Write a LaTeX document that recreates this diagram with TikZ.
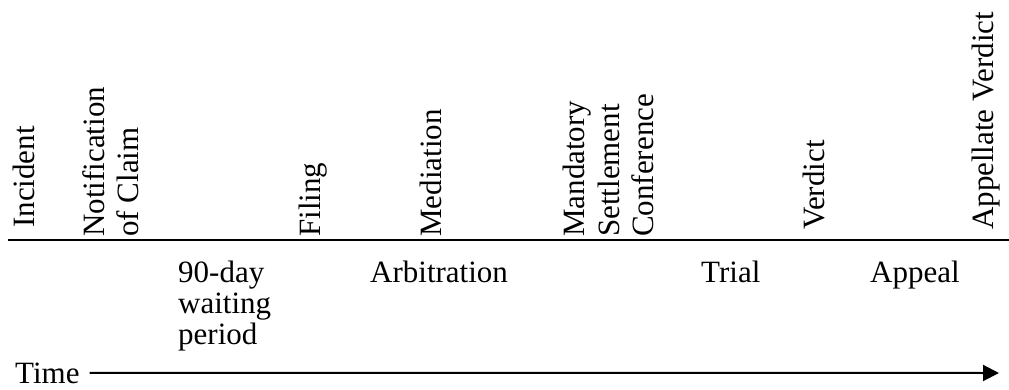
\documentclass[tikz,border=0pt]{standalone}
\usepackage{fontspec}
\setmainfont{Liberation Serif}
\usetikzlibrary{arrows.meta}
\begin{document}
\begin{tikzpicture}[x=1pt,y=-1pt,
  ev/.style={rotate=90,anchor=north west,inner sep=0pt,align=left,font=\fontsize{31}{34.5}\selectfont},
  ph/.style={anchor=north west,inner sep=0pt,align=left,font=\fontsize{31}{31}\selectfont},
  axisline/.style={line width=2pt},
  timearrow/.style={line width=2pt,-{Triangle[length=16pt,width=16pt]}}]
\useasboundingbox (0,0) rectangle (1009,390);
% events (rotated)
\node[ev] (incident) at (13,228) {Incident};
\node[ev] (notif) at (82,237) {Notification\\of Claim};
\node[ev] (filing) at (299,237) {Filing};
\node[ev] (mediation) at (420,237) {Mediation};
\node[ev] (msc) at (563,237) {Mandatory\\Settlement\\Conference};
\node[ev] (verdict) at (803,230) {Verdict};
\node[ev] (appverdict) at (972,230) {Appellate Verdict};
% baseline
\coordinate (l0) at (8,239.5);
\coordinate (l1) at (1009,239.5);
\draw[axisline] (l0) -- (l1);
% phases
\node[ph] (wait) at (178,261) {90-day\\waiting\\period};
\node[ph] (arb) at (370,261) {Arbitration};
\node[ph] (trial) at (701,261) {Trial};
\node[ph] (appeal) at (870,261) {Appeal};
% time axis
\node[anchor=base west,inner sep=0pt,font=\fontsize{31}{31}\selectfont] (time) at (15,383) {Time};
\coordinate (tend) at (999,373);
\draw[timearrow,shorten <=10pt] (time.east) -- (tend);
\end{tikzpicture}
\end{document}
